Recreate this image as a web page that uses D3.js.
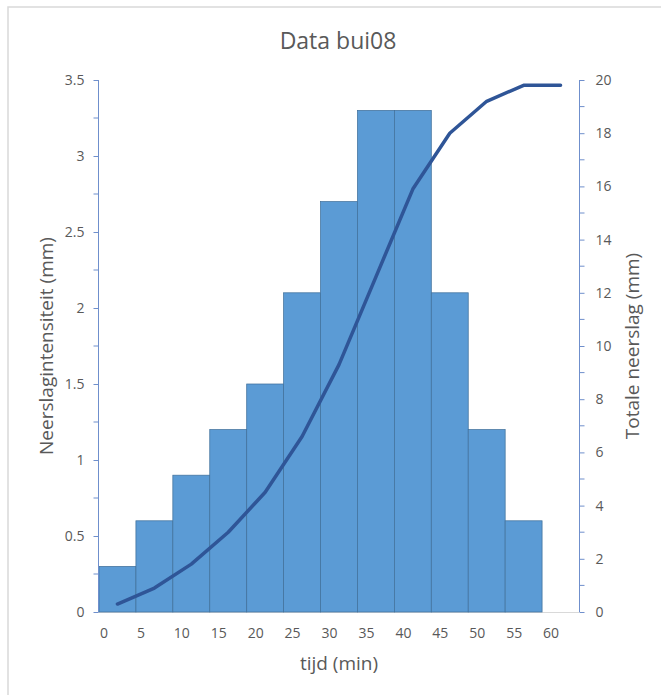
<!DOCTYPE html>
<html>
<head>
<meta charset="utf-8">
<script src="https://cdn.jsdelivr.net/npm/d3@7"></script>
<style>
  body { margin: 0; background: #fff; }
  svg text { font-family: "Open Sans", "Noto Sans", sans-serif; fill: #595959; }
</style>
</head>
<body>
<svg id="chart" width="661" height="695"></svg>
<script>
// ---- data ----
const binStarts = [0, 5, 10, 15, 20, 25, 30, 35, 40, 45, 50, 55];
const binWidth = 5;
const intensity = [0.3, 0.6, 0.9, 1.2, 1.5, 2.1, 2.7, 3.3, 3.3, 2.1, 1.2, 0.6];
const lineTimes = [2.5, 7.5, 12.5, 17.5, 22.5, 27.5, 32.5, 37.5, 42.5, 47.5, 52.5, 57.5, 62.5];
const cumulative = [0.3, 0.9, 1.8, 3.0, 4.5, 6.6, 9.3, 12.6, 15.9, 18.0, 19.2, 19.8, 19.8];
const xTickLabels = [0, 5, 10, 15, 20, 25, 30, 35, 40, 45, 50, 55, 60];
const leftTicks = [0, 0.5, 1, 1.5, 2, 2.5, 3, 3.5];
const rightTicks = [0, 2, 4, 6, 8, 10, 12, 14, 16, 18, 20];

const svg = d3.select("#chart");
const L = 99, R = 579, T = 80, B = 612;
const axisColor = "#6F8FCC";

// chart border
svg.append("rect").attr("x", 8).attr("y", 7).attr("width", 720).attr("height", 720)
  .attr("fill", "none").attr("stroke", "#D9D9D9").attr("stroke-width", 1.5);

const x = d3.scaleLinear().domain([0, 65]).range([L, R]);
const yL = d3.scaleLinear().domain([0, 3.5]).range([B, T]);
const yR = d3.scaleLinear().domain([0, 20]).range([B, T]);

// title
svg.append("text").attr("x", 338).attr("y", 49).attr("text-anchor", "middle")
  .style("font-size", "23px").text("Data bui08");

// baseline
svg.append("line").attr("x1", L - 5).attr("x2", R).attr("y1", B + 0.5).attr("y2", B + 0.5)
  .attr("stroke", "#D9D9D9").attr("stroke-width", 1);

// bars
svg.append("g").selectAll("rect").data(binStarts).join("rect")
  .attr("x", d => x(d))
  .attr("width", d => x(d + binWidth) - x(d))
  .attr("y", (d, i) => yL(intensity[i]))
  .attr("height", (d, i) => yL(0) - yL(intensity[i]))
  .attr("fill", "#5B9BD5")
  .attr("stroke", "#41719C")
  .attr("stroke-width", 0.75);

// left axis
const leftAxis = d3.axisLeft(yL).tickValues(leftTicks).tickSize(5).tickPadding(9)
  .tickFormat(d => String(d));
const gL = svg.append("g").attr("transform", `translate(${L - 0.5},0)`).call(leftAxis);
const leftMinor = d3.range(0.25, 3.5, 0.5);
gL.selectAll(".minor").data(leftMinor).join("line").attr("class", "minor")
  .attr("x1", -5).attr("x2", 0).attr("y1", d => yL(d)).attr("y2", d => yL(d));

// right axis
const rightAxis = d3.axisRight(yR).tickValues(rightTicks).tickSize(5).tickPadding(11)
  .tickFormat(d => String(d));
const gR = svg.append("g").attr("transform", `translate(${R + 0.5},0)`).call(rightAxis);
const rightMinor = d3.range(1, 20, 2);
gR.selectAll(".minor").data(rightMinor).join("line").attr("class", "minor")
  .attr("x1", 0).attr("x2", 5).attr("y1", d => yR(d)).attr("y2", d => yR(d));

[gL, gR].forEach(g => {
  g.selectAll(".tick line, .minor").attr("stroke", axisColor);
  g.selectAll("text").style("font-size", "14px").attr("fill", "#595959")
    .style("font-family", '"Open Sans", sans-serif');
});
gL.select(".domain").remove();
gR.select(".domain").remove();
gL.append("line").attr("x1", 0).attr("x2", 0).attr("y1", T).attr("y2", B).attr("stroke", axisColor);
gR.append("line").attr("x1", 0).attr("x2", 0).attr("y1", T).attr("y2", B).attr("stroke", axisColor);

// x tick labels
svg.append("g").selectAll("text").data(xTickLabels).join("text")
  .attr("x", d => x(d) + 1)
  .attr("y", 638)
  .style("font-size", "14px")
  .text(d => d);

// cumulative line
const line = d3.line().x((d, i) => x(lineTimes[i])).y(d => yR(d));
svg.append("path").datum(cumulative).attr("d", line)
  .attr("fill", "none").attr("stroke", "#2F5597").attr("stroke-width", 3.5)
  .attr("stroke-linejoin", "round").attr("stroke-linecap", "round");

// axis titles
svg.append("text").attr("x", 339).attr("y", 670).attr("text-anchor", "middle")
  .style("font-size", "19px").text("tijd (min)");
svg.append("text").attr("transform", `translate(53,${(T + B) / 2}) rotate(-90)`)
  .attr("text-anchor", "middle").style("font-size", "19px").text("Neerslagintensiteit (mm)");
svg.append("text").attr("transform", `translate(639,${(T + B) / 2}) rotate(-90)`)
  .attr("text-anchor", "middle").style("font-size", "19px").text("Totale neerslag (mm)");
</script>
</body>
</html>
